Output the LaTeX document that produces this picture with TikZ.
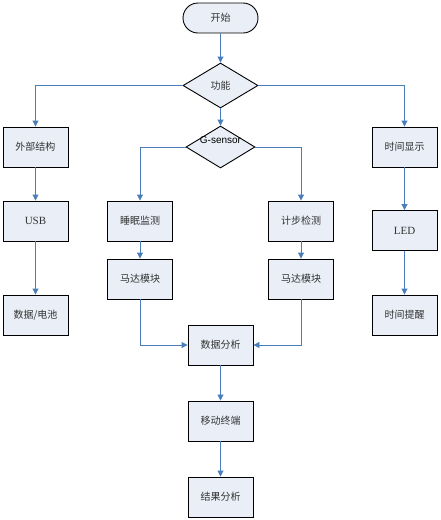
\documentclass[tikz,border=0pt]{standalone}
\usepackage{fontspec}
\setmainfont{Liberation Serif}
\newfontfamily\cjk{Noto Sans CJK SC}
\newfontfamily\gsans{Liberation Sans}
\usetikzlibrary{shapes.geometric,shapes.misc,arrows.meta}
\definecolor{boxfill}{HTML}{E9EEF7}
\definecolor{linkblue}{HTML}{4A7EBB}
\definecolor{txtgray}{HTML}{333333}
\begin{document}
\begin{tikzpicture}[x=1pt,y=-1pt,
  every node/.style={font=\fontsize{10pt}{12pt}\selectfont\cjk, text=txtgray},
  box/.style={draw=black, line width=0.9pt, fill=boxfill, minimum width=65pt, minimum height=40pt, inner sep=0pt},
  term/.style={draw=black, line width=0.9pt, fill=boxfill, rounded rectangle, minimum width=75pt, minimum height=30pt, inner sep=0pt},
  dec/.style={draw=black, line width=0.9pt, fill=boxfill, diamond, inner sep=0pt},
  link/.style={draw=linkblue, line width=0.9pt, -{Triangle[width=6pt,length=6pt]}}
]
\useasboundingbox (0,0) rectangle (441,520);
\node[term] (start) at (220.5,18) {开始};
\node[dec, minimum width=75pt, minimum height=45pt] (func) at (220.5,85.5) {功能};
\node[dec, minimum width=69pt, minimum height=42pt] (gs) at (220.5,147) {};
\node[font=\fontsize{10pt}{12pt}\selectfont\gsans, text=black] (gslabel) at (220.5,140.5) {G-sensor};
\node[box] (ext) at (35.5,147) {外部结构};
\node[box] (tdisp) at (404.5,147) {时间显示};
\node[box, font=\fontsize{11pt}{13pt}\selectfont\rmfamily] (usb) at (35.5,221) {USB};
\node[box] (sleep) at (140,221) {睡眠监测};
\node[box] (step) at (301,221) {计步检测};
\node[box, font=\fontsize{11pt}{13pt}\selectfont\rmfamily] (led) at (404.5,230.5) {LED};
\node[box] (motorl) at (140,279) {马达模块};
\node[box] (motorr) at (301,279) {马达模块};
\node[box] (batt) at (35.5,315) {数据/电池};
\node[box] (remind) at (404.5,315) {时间提醒};
\node[box] (anal) at (220.5,345) {数据分析};
\node[box] (mobile) at (220.5,421) {移动终端};
\node[box] (result) at (220.5,497) {结果分析};

\draw[link] (start) -- (func);
\draw[link] (func.west) -| (ext.north);
\draw[link] (func.east) -| (tdisp.north);
\draw[link] (func) -- (gs);
\draw[link] (gs.west) -| (sleep.north);
\draw[link] (gs.east) -| (step.north);
\draw[link] (ext) -- (usb);
\draw[link] (usb) -- (batt);
\draw[link] (tdisp) -- (led);
\draw[link] (led) -- (remind);
\draw[link] (sleep) -- (motorl);
\draw[link] (step) -- (motorr);
\draw[link] (motorl.south) |- (anal.west);
\draw[link] (motorr.south) |- (anal.east);
\draw[link] (anal) -- (mobile);
\draw[link] (mobile) -- (result);
\end{tikzpicture}
\end{document}
